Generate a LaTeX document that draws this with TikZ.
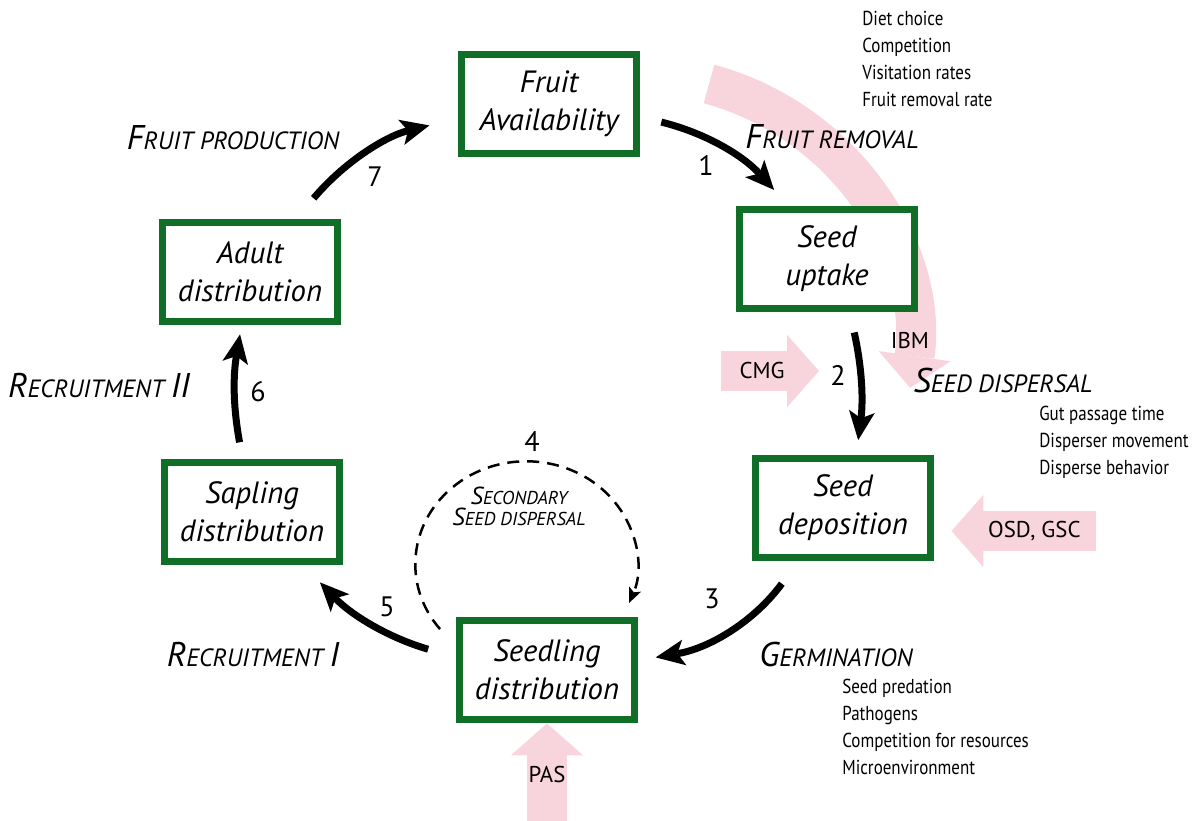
\documentclass[tikz,border=0pt]{standalone}
\usepackage{fontspec}
\setmainfont{PT Sans}
\newfontfamily\narrowfont[FakeStretch=0.84]{PT Sans}
\usetikzlibrary{arrows.meta,positioning}

\definecolor{boxgreen}{RGB}{16,110,38}
\definecolor{inpink}{RGB}{248,212,221}
\newcommand{\stagecap}{\fontsize{19.5}{20}\selectfont}
\newcommand{\stagesc}{\fontsize{14.2}{15}\selectfont}
\newcommand{\subcap}{\fontsize{14}{12.5}\selectfont}
\newcommand{\subsc}{\fontsize{10.6}{12.5}\selectfont}

\begin{document}
\begin{tikzpicture}[x=0.02cm,y=-0.02cm,
    stage/.style={draw=boxgreen,line width=0.14cm,fill=white,minimum width=3.5cm,
        minimum height=2cm,align=center,font=\fontsize{17.5}{21.5}\selectfont\itshape},
    flow/.style={line width=0.14cm,
        -{Stealth[length=0.58cm,width=0.52cm,inset=0.14cm,line width=0pt]}},
    secflow/.style={line width=0.05cm,dash pattern=on 0.24cm off 0.16cm,
        -{Stealth[length=0.3cm,width=0.26cm,inset=0.07cm,line width=0pt]}},
    influx/.style={draw=inpink,line width=0.8cm,
        -{Triangle[length=0.64cm,width=1.45cm,line width=0pt]}},
    proc/.style={font=\itshape},
    num/.style={font=\fontsize{16}{18}\selectfont},
    code/.style={text=black,font=\fontsize{13}{14}\selectfont},
    factors/.style={align=left,anchor=north west,inner sep=0pt,
        font=\narrowfont\fontsize{11.5}{15.3}\selectfont}]

    \useasboundingbox (0,0) rectangle (1197,821);

    % inputs
    \coordinate (ibm) at (709,84);
    \draw[influx] (ibm) arc[start angle=75,end angle=-8,radius=5.5cm];
    \coordinate (cmg) at (721,371);
    \draw[influx] (cmg) -- ++(98,0) node[code,pos=0.42] {CMG};

    % stages
    \node[stage] (fruit) at (549,104) {Fruit\\Availability};
    \node[stage] (uptake) at (827,259) {Seed\\uptake};
    \node[stage] (deposition) at (843,508) {Seed\\deposition};
    \node[stage] (seedling) at (547,670) {Seedling\\distribution};
    \node[stage] (sapling) at (252,512) {Sapling\\distribution};
    \node[stage] (adult) at (250,272) {Adult\\distribution};

    \coordinate (osd) at (1096,531);
    \draw[influx,shorten >=0.35cm] (osd) -- (osd -| deposition.east) node[code,pos=0.38] {OSD, GSC};
    \coordinate (pas) at (547,821);
    \draw[influx] (pas) -- (seedling.south) node[code,pos=0.48] {PAS};
    \node[code] (ibmlabel) at (910,341) {IBM};

    % processes
    \node[proc] (lprod) at (233,138) {\stagecap F\stagesc RUIT PRODUCTION};
    \node[proc] (lremoval) at (832,137) {\stagecap F\stagesc RUIT REMOVAL};
    \node[proc] (ldispersal) at (1003,381) {\stagecap S\stagesc EED DISPERSAL};
    \node[proc] (lgerm) at (836,655) {\stagecap G\stagesc ERMINATION};
    \node[proc] (lrecI) at (253,655) {\stagecap R\stagesc ECRUITMENT \stagecap I};
    \node[proc] (lrecII) at (99,386) {\stagecap R\stagesc ECRUITMENT \stagecap II};
    \node[proc,align=center] (lsec) at (519,506) {\subcap S\subsc ECONDARY\\\subcap S\subsc EED DISPERSAL};

    % factors
    \node[factors] (fremoval) at (862,11) {Diet choice\\Competition\\Visitation rates\\Fruit removal rate};
    \node[factors] (fdispersal) at (1039,406) {Gut passage time\\Disperser movement\\Disperse behavior};
    \node[factors] (fgerm) at (842,679) {Seed predation\\Pathogens\\Competition for resources\\Microenvironment};

    % steps
    \node[num] (n1) at (706,165) {1};
    \node[num] (n2) at (838,375) {2};
    \node[num] (n3) at (712,599) {3};
    \node[num] (n4) at (532,442) {4};
    \node[num] (n5) at (387,607) {5};
    \node[num] (n6) at (258,392) {6};
    \node[num] (n7) at (375,177) {7};

    \draw[flow,shorten <=0.44cm,shorten >=0.42cm] (fruit.-8) to[bend left=17] (uptake.126);
    \draw[flow,shorten <=0.41cm,shorten >=0.29cm] (uptake.-67) to[bend left=10] (deposition.76);
    \draw[flow,shorten <=0.55cm,shorten >=0.36cm] (deposition.230) to[bend left=22] (seedling.6);
    \draw[flow,shorten <=0.58cm,shorten >=0.47cm] (seedling.172) to[bend left=15] (sapling.-46);
    \draw[flow,shorten <=0.33cm,shorten >=0.18cm] (sapling.100) to[bend left=10] (adult.-99);
    \draw[flow,shorten <=0.53cm,shorten >=0.59cm] (adult.49) to[bend left=18] (fruit.189);
    \draw[secflow] ([shift={(-16,-6)}]seedling.159) arc[start angle=219,end angle=-22,x radius=2.22cm,y radius=2.06cm];
\end{tikzpicture}
\end{document}
